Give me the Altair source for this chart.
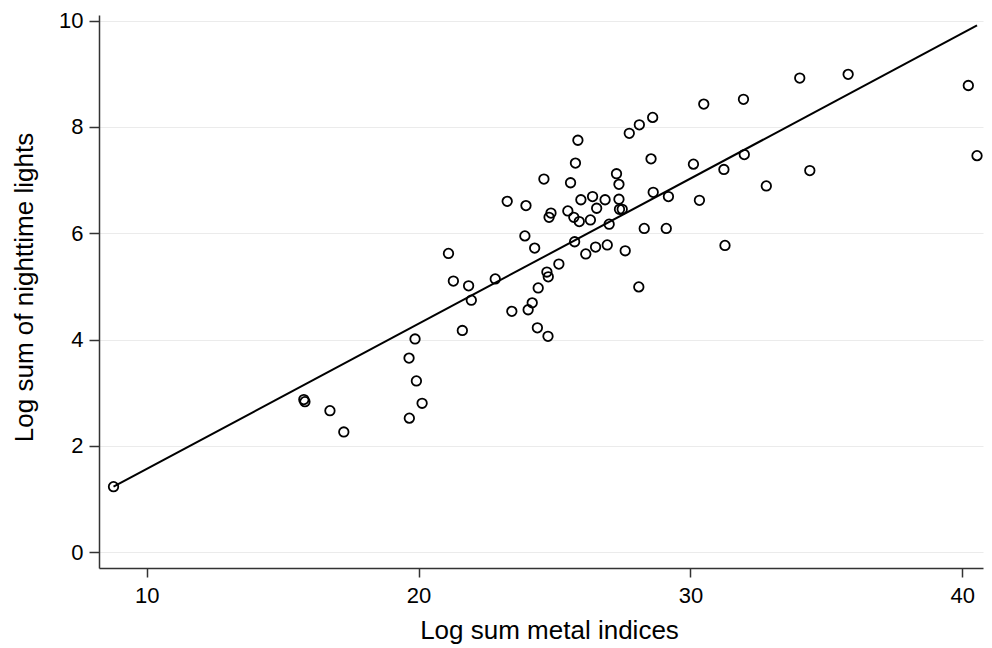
import altair as alt
import pandas as pd

# Scatter points (x = log sum metal indices, y = log sum of nighttime lights)
metal = [8.78, 15.78, 15.82, 16.74, 17.25, 19.66, 20.13, 19.92, 19.65, 19.87,
         21.61, 21.94, 21.10, 21.28, 21.84, 22.82, 23.26, 23.95, 23.43, 24.03,
         24.18, 24.37, 24.76, 24.40, 24.72, 24.77, 25.16, 23.91, 24.27, 24.61,
         24.87, 24.80, 25.49, 25.71, 25.91, 25.59, 25.77, 25.86, 25.74, 25.97,
         26.40, 26.86, 26.55, 26.32, 26.15, 26.51, 26.94, 27.01, 27.28, 27.37,
         27.37, 27.39, 27.49, 27.60, 27.75, 28.12, 28.61, 28.55, 28.63, 28.30,
         28.10, 29.19, 29.11, 30.11, 30.33, 30.49, 31.23, 31.27, 31.95, 31.98,
         32.79, 34.02, 34.39, 35.80, 40.22, 40.54]
lights = [1.23, 2.87, 2.83, 2.66, 2.26, 2.52, 2.80, 3.22, 3.65, 4.01,
          4.17, 4.74, 5.62, 5.10, 5.01, 5.14, 6.60, 6.52, 4.53, 4.56,
          4.69, 4.22, 4.06, 4.97, 5.27, 5.18, 5.42, 5.95, 5.72, 7.02,
          6.38, 6.30, 6.42, 6.30, 6.22, 6.95, 7.32, 7.75, 5.84, 6.63,
          6.69, 6.63, 6.47, 6.25, 5.61, 5.74, 5.78, 6.17, 7.12, 6.92,
          6.64, 6.45, 6.45, 5.67, 7.88, 8.04, 8.18, 7.40, 6.77, 6.09,
          4.99, 6.69, 6.09, 7.30, 6.62, 8.43, 7.20, 5.77, 8.52, 7.48,
          6.89, 8.92, 7.18, 8.99, 8.78, 7.46]

# Fitted line end points
fit_x = [8.78, 40.54]
fit_y = [1.23, 9.91]

x_ticks = [10, 20, 30, 40]
y_ticks = [0, 2, 4, 6, 8, 10]

pts = pd.DataFrame({"metal": metal, "lights": lights})
fit = pd.DataFrame({"metal": fit_x, "lights": fit_y})

FONT = "Liberation Sans"

xscale = alt.Scale(domain=[8.246, 40.76], nice=False, zero=False)
yscale = alt.Scale(domain=[-0.30, 10.107], nice=False, zero=False)

xaxis = alt.Axis(
    title="Log sum metal indices", values=x_ticks, grid=False,
    tickSize=9, tickWidth=1.5, tickColor="#333333",
    domainColor="#333333", domainWidth=1.5,
    labelFontSize=22, labelPadding=8, labelColor="black", labelFont=FONT,
    titleFontSize=26, titleFontWeight="normal", titleColor="black", titleFont=FONT,
    titleBaseline="alphabetic", titleY=70, titleX=450,
)
yaxis = alt.Axis(
    title="Log sum of nighttime lights", values=y_ticks, grid=True,
    gridColor="#ebebeb", gridWidth=1,
    tickSize=10, tickWidth=1.5, tickColor="#333333",
    domainColor="#333333", domainWidth=1.5,
    labelFontSize=22, labelPadding=6, labelColor="black", labelFont=FONT,
    titleFontSize=26, titleFontWeight="normal", titleColor="black", titleFont=FONT,
    titleBaseline="alphabetic", titleAlign="center", titleX=-67, titleY=272,
)

points = alt.Chart(pts).mark_point(
    shape="circle", filled=False, size=90, strokeWidth=1.8, color="black", opacity=1
).encode(
    x=alt.X("metal:Q", scale=xscale, axis=xaxis),
    y=alt.Y("lights:Q", scale=yscale, axis=yaxis),
)

line = alt.Chart(fit).mark_line(color="black", strokeWidth=2).encode(
    x=alt.X("metal:Q", scale=xscale),
    y=alt.Y("lights:Q", scale=yscale),
)

chart = alt.layer(points, line).properties(
    width=884, height=553,
    autosize=alt.AutoSizeParams(type="none"),
    padding={"left": 91, "top": 7, "right": 1, "bottom": 76},
    background="white",
).configure_view(stroke=None)

chart.save("out.html", embed_options={"renderer": "svg", "actions": False})
